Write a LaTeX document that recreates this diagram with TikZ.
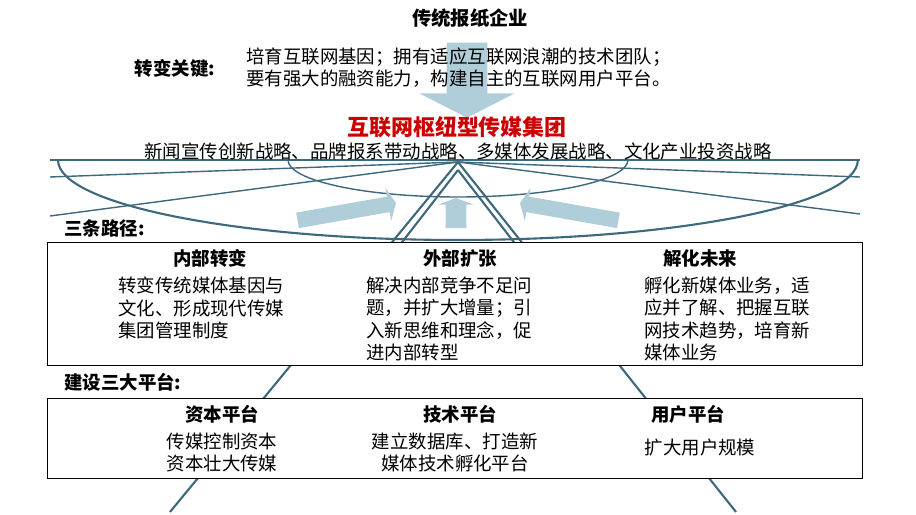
\documentclass[tikz,border=0pt]{standalone}
\usepackage{fontspec}
\setmainfont{Noto Sans CJK SC}
\usetikzlibrary{shapes.arrows}
\definecolor{fanline}{RGB}{62,105,125}
\definecolor{arrowblue}{RGB}{176,206,218}
\definecolor{titlered}{RGB}{204,0,0}
\begin{document}
\begin{tikzpicture}[x=0.02cm, y=-0.02cm,
    every node/.style={font=\fontsize{10.5}{13}\selectfont},
    head/.style={font=\fontsize{10.5}{13}\selectfont\bfseries},
    body/.style={align=left, font=\fontsize{10.5}{12.6}\selectfont},
    fan/.style={draw=fanline, line width=1.2pt},
    fat/.style={single arrow, fill=arrowblue, draw=none, inner sep=0.2cm,
      single arrow head extend=0.15cm, single arrow tip angle=140, minimum height=0.5cm},
    slant/.style={fat, minimum height=2cm, inner sep=0.15cm,
      single arrow head extend=0.18cm, single arrow tip angle=130},
    panel/.style={draw, fill=white, line width=0.6pt}]
  \useasboundingbox (0,0) rectangle (916,514);
  % fan behind the boxes
  \coordinate (apex) at (458,162);
  \draw[fan] (50,160) -- (860,160);
  \draw[fan] (58,160) arc[start angle=180, end angle=360, x radius=8cm, y radius=1.6cm];
  \draw[fan, line width=0.8pt] (288,160) arc[start angle=180, end angle=360, x radius=3.4cm, y radius=0.74cm];
  \foreach \tx/\ty in {50/177, 50/216, 860/177, 860/214}
    \draw[fan, line width=0.8pt] (apex) -- (\tx,\ty);
  % arrows
  \node[fat, rotate=-90, minimum height=1.5cm, inner sep=0.4cm,
    single arrow head extend=0.55cm, single arrow tip angle=126] (down) at (467,75) {};
  \node[fat, rotate=90, minimum height=0.6cm] (upc) at (456,215) {};
  \node[slant, rotate=10] (upl) at (345,212) {};
  \node[slant, rotate=170] (upr) at (571,212) {};
  \coordinate (lfoot) at (170,512);
  \coordinate (rfoot) at (736,512);
  \draw[fan] (apex) -- (lfoot);
  \draw[fan] (apex) -- (rfoot);
  \draw[fan] (458,170) -- (396,250);
  \draw[fan] (458,170) -- (520,250);
  % texts
  \node[head, font=\fontsize{11}{13}\selectfont\bfseries] (top) at (470,18) {传统报纸企业};
  \node[head] (keyt) at (175,68) {转变关键:};
  \node[body, anchor=west] (keyb) at (240,68) {培育互联网基因；拥有适应互联网浪潮的技术团队；\\要有强大的融资能力，构建自主的互联网用户平台。};
  \node[font=\fontsize{12.5}{14}\selectfont\bfseries, text=titlered] (group) at (457,127) {互联网枢纽型传媒集团};
  \node (strat) at (458,151) {新闻宣传创新战略、品牌报系带动战略、多媒体发展战略、文化产业投资战略};
  \node[head, anchor=west] (paths) at (58,228) {三条路径:};
  % box 1
  \node[panel, minimum width=815*0.02cm, minimum height=123*0.02cm, anchor=north west] (box1) at (47,242) {};
  \node[head] (h1) at (210,258) {内部转变};
  \node[head] (h2) at (460,258) {外部扩张};
  \node[head] (h3) at (700,258) {解化未来};
  \node[body, anchor=north west] (b1) at (112,271) {转变传统媒体基因与\\文化、形成现代传媒\\集团管理制度};
  \node[body, anchor=north west] (b2) at (360,271) {解决内部竞争不足问\\题，并扩大增量；引\\入新思维和理念，促\\进内部转型};
  \node[body, anchor=north west] (b3) at (638,271) {孵化新媒体业务，适\\应并了解、把握互联\\网技术趋势，培育新\\媒体业务};
  \node[head, anchor=west] (plat) at (58,382) {建设三大平台:};
  % box 2
  \node[panel, minimum width=815*0.02cm, minimum height=80*0.02cm, anchor=north west] (box2) at (47,398) {};
  \node[head] (p1) at (222,414) {资本平台};
  \node[head] (p2) at (460,414) {技术平台};
  \node[head] (p3) at (688,414) {用户平台};
  \node[body, align=center, anchor=north] (c1) at (222,427) {传媒控制资本\\资本壮大传媒};
  \node[body, align=center, anchor=north] (c2) at (455,427) {建立数据库、打造新\\媒体技术孵化平台};
  \node (c3) at (700,447) {扩大用户规模};
\end{tikzpicture}
\end{document}
